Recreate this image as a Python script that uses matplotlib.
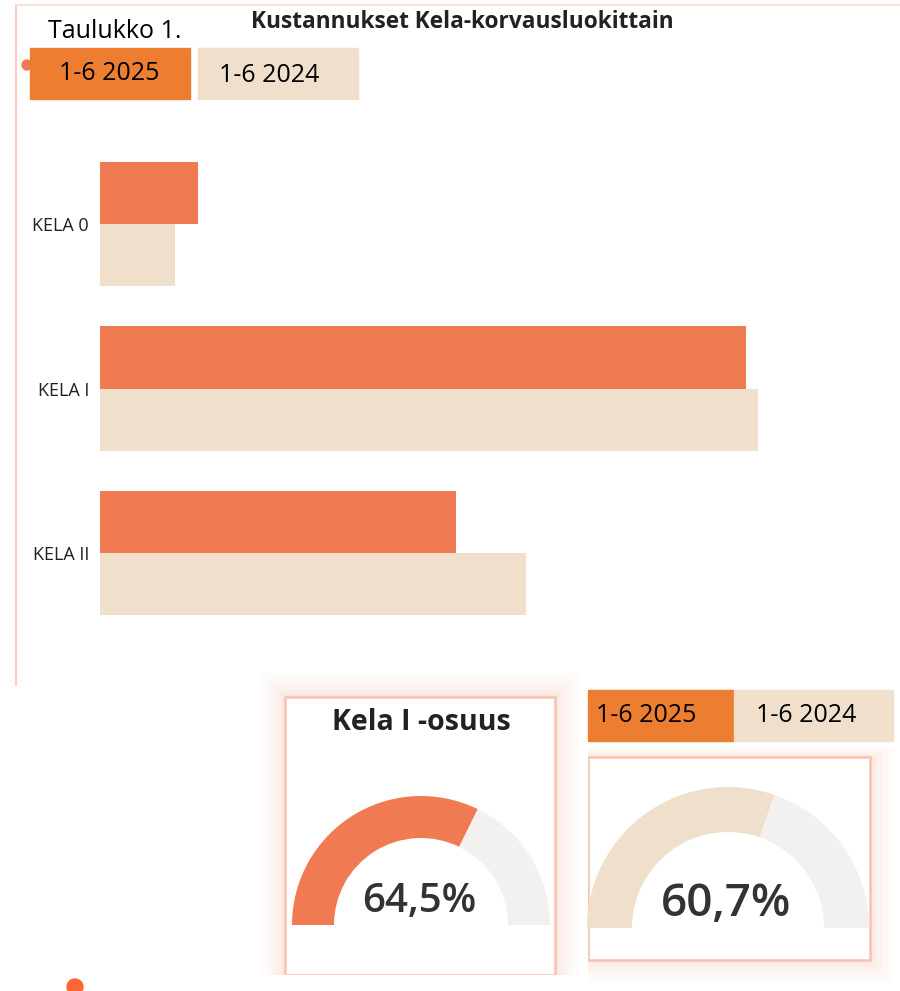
import matplotlib
matplotlib.use("Agg")
import matplotlib.pyplot as plt
from matplotlib.patches import Rectangle, Wedge, Circle

# Data
categories = ["KELA 0", "KELA I", "KELA II"]
cost_2025 = [9.8, 64.6, 35.6]
cost_2024 = [7.5, 65.8, 42.6]
series_labels = ["1-6 2025", "1-6 2024"]
kela1_share = [64.5, 60.7]

W, H = 900, 991
ORANGE = "#ED7D31"
CORAL = "#F07B52"
BEIGE = "#EFDFCB"
GREY_ARC = "#F2F1EF"
BORDER = "#F8C3B0"
TEXT = "#222222"
SANS = ["Open Sans", "DejaVu Sans"]

fig = plt.figure(figsize=(W / 100, H / 100), dpi=100)
bg = fig.add_axes([0, 0, 1, 1])
bg.set_xlim(0, W)
bg.set_ylim(0, H)
bg.axis("off")


def Y(py):
    return H - py


def box(x0, y0, x1, y1, **kw):
    bg.add_patch(Rectangle((x0, Y(y1)), x1 - x0, y1 - y0, **kw))


# top panel borders
bg.plot([16, 16], [Y(5), Y(685)], color="#FBCDBD", lw=1.5, zorder=2)
bg.plot([16, 900], [Y(5), Y(5)], color="#FBD9CD", lw=1.2, zorder=2)

bg.text(115, Y(31), "Taulukko 1.", ha="center", va="center", fontsize=18,
        family=SANS, color="black", zorder=5)
bg.text(462, Y(22), "Kustannukset Kela-korvausluokittain", ha="center", va="center",
        fontsize=16.3, fontweight="bold", family=SANS, color=TEXT, zorder=5)

bg.add_patch(Circle((27, Y(65)), 5, color=CORAL, zorder=2))
# legend boxes top
box(30, 48, 190, 99, color=ORANGE, zorder=3)
box(198, 48, 358, 99, color=BEIGE, zorder=3)
bg.text(109, Y(74), series_labels[0], ha="center", va="center", fontsize=18,
        family=SANS, color="black", zorder=5)
bg.text(269, Y(75), series_labels[1], ha="center", va="center", fontsize=18,
        family=SANS, color="black", zorder=5)

# bar chart
ax = fig.add_axes([100 / W, 1 - 635.25 / H, 800 / W, 493.5 / H])
ax.patch.set_alpha(0)
h = 0.377
ypos = list(range(len(categories)))
ax.barh([y - h / 2 for y in ypos], cost_2025, height=h, color=CORAL)
ax.barh([y + h / 2 for y in ypos], cost_2024, height=h, color=BEIGE)
ax.set_xlim(0, 80)
ax.set_ylim(2.5, -0.5)
ax.set_yticks(ypos)
ax.set_yticklabels(categories, family=SANS, fontsize=13, color=TEXT)
ax.tick_params(axis="y", length=0, pad=8)
ax.set_xticks([])
for s in ax.spines.values():
    s.set_visible(False)

# card shadows
for k, a in [(24, 0.04), (18, 0.05), (12, 0.07), (7, 0.09), (3, 0.12)]:
    box(285 - k, 697 - k, 555 + k, 975, color="#F9B7A0", alpha=a, lw=0, zorder=1)
    box(588, 757 - k * 0.4, 870 + k, 960 + k, color="#F9B7A0", alpha=a, lw=0, zorder=1)
box(285, 697, 555, 975, facecolor="white", edgecolor=BORDER, lw=1.8, zorder=2)
box(588, 757, 870, 960, facecolor="white", edgecolor=BORDER, lw=1.8, zorder=2)
box(0, 975, 560, 991, color="white", lw=0, zorder=3)
box(580, 741, 588, 975, color="white", lw=0, zorder=3)

bg.text(421, Y(722), "Kela I -osuus", ha="center", va="center", fontsize=20.5,
        fontweight="bold", family=SANS, color=TEXT, zorder=5)

# bottom legend
box(588, 690, 734, 741, color=ORANGE, zorder=3)
box(734, 690, 893, 741, color=BEIGE, zorder=3)
bg.text(646, Y(716), series_labels[0], ha="center", va="center", fontsize=18,
        family=SANS, color="black", zorder=5)
bg.text(806, Y(716), series_labels[1], ha="center", va="center", fontsize=18,
        family=SANS, color="black", zorder=5)

# gauges
gauges = [((421, 925), 129, 87, CORAL, 29), ((728, 928), 141, 96, BEIGE, 33)]
for share, ((cx, cy), r_out, r_in, col, fs) in zip(kela1_share, gauges):
    split = 180 - 180 * share / 100
    bg.add_patch(Wedge((cx, Y(cy)), r_out, split, 180, width=r_out - r_in,
                       color=col, lw=0, zorder=4))
    bg.add_patch(Wedge((cx, Y(cy)), r_out, 0, split, width=r_out - r_in,
                       color=GREY_ARC, lw=0, zorder=4))
    bg.text(cx - 2, Y(cy - 23), f"{share:.1f}%".replace(".", ","), ha="center",
            va="center", fontsize=fs, fontweight="semibold", family=SANS,
            color="#333333", zorder=5)

# clipped fragment at bottom
bg.add_patch(Circle((75, Y(987)), 8, color="#FF6633", zorder=6))

fig.savefig("out.png", dpi=100)
